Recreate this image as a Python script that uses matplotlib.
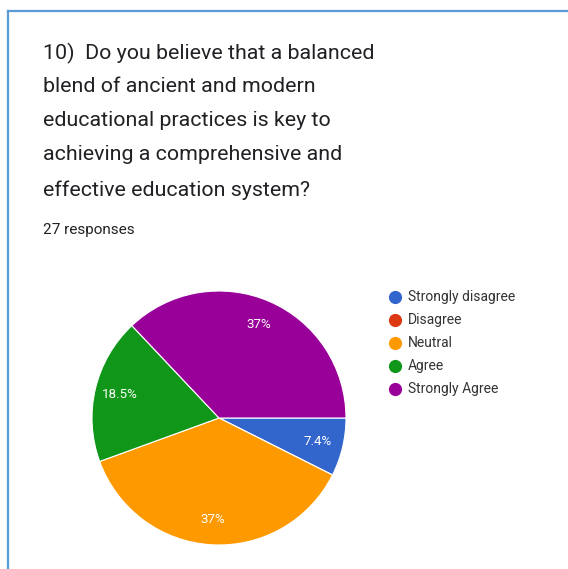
import matplotlib
matplotlib.use("Agg")
import matplotlib.pyplot as plt
from matplotlib.lines import Line2D

categories = ["Strongly disagree", "Disagree", "Neutral", "Agree", "Strongly Agree"]
counts = [2, 0, 10, 5, 10]
pct_labels = ["7.4%", "", "37%", "18.5%", "37%"]
colors = ["#3366cc", "#dc3912", "#ff9900", "#109618", "#990099"]
title_lines = ["10)  Do you believe that a balanced",
               "blend of ancient and modern",
               "educational practices is key to",
               "achieving a comprehensive and",
               "effective education system?"]
subtitle = "27 responses"

plt.rcParams['font.family'] = ['Roboto', 'DejaVu Sans']
W, H = 568, 569
fig = plt.figure(figsize=(W/100, H/100), dpi=100)
fig.patch.set_facecolor("white")

# border lines (top and left)
fig.add_artist(Line2D([8/W, 1], [1-11/H, 1-11/H], color="#5b9bd5", lw=1.6, transform=fig.transFigure))
fig.add_artist(Line2D([8/W, 8/W], [0, 1-11/H], color="#5b9bd5", lw=1.6, transform=fig.transFigure))

# title
ys = [53, 87, 121, 155, 190]
for y, t in zip(ys, title_lines):
    fig.text(43/W, 1-y/H, t, fontsize=15.4, color="#202124", va="center", ha="left")
fig.text(43/W, 1-230/H, subtitle, fontsize=11.0, color="#202124", va="center", ha="left")

# pie
cx, cy, r = 219, 418, 127
ax = fig.add_axes([(cx-r)/W, 1-(cy+r)/H, 2*r/W, 2*r/H])
it = iter(pct_labels)
wedges, _, autotexts = ax.pie(counts, colors=colors, startangle=0, counterclock=False,
                              radius=1, autopct=lambda p: next(it), pctdistance=0.8,
                              wedgeprops=dict(edgecolor="white", linewidth=0.8),
                              textprops=dict(color="white", fontsize=9.6))
ax.set_xlim(-1, 1); ax.set_ylim(-1, 1)
ax.set_aspect("equal")
ax.axis("off")

# legend
ly = [297, 320, 343, 366, 389]
for y, c, name in zip(ly, colors, categories):
    fig.add_artist(Line2D([395/W], [1-y/H], marker="o", markersize=9.5, color=c, markeredgewidth=0,
                          transform=fig.transFigure))
    fig.text(408/W, 1-y/H, name, fontsize=10.0, color="#333333", va="center", ha="left")

fig.savefig("out.png", dpi=100, facecolor="white")
